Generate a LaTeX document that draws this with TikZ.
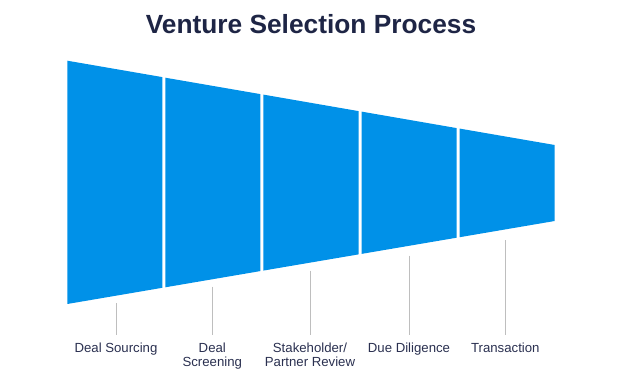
\documentclass[tikz,border=0pt]{standalone}
\usepackage{fontspec}
\setmainfont{Liberation Sans}
\definecolor{funnelblue}{RGB}{0,145,232}
\definecolor{titlenavy}{RGB}{30,37,69}
\definecolor{labelnavy}{RGB}{42,48,80}
\definecolor{leadergray}{RGB}{190,190,190}
\tikzset{
	stage/.style={fill=funnelblue, draw=none},
	leader/.style={draw=leadergray, line width=1pt},
	lbl/.style={text=labelnavy, font=\fontsize{13.2}{14}\selectfont, align=center, inner sep=0pt, anchor=north}
}
\begin{document}
\begin{tikzpicture}[x=1pt, y=-1pt]
	\useasboundingbox (0,0) rectangle (625,385);
	\node[text=titlenavy, font=\fontsize{26.3}{30}\selectfont\bfseries, anchor=base] (title) at (311,33.3) {Venture Selection Process};
	% funnel stages
	\fill[stage] (67.3,60.7) -- (162.3,77.1) -- (162.3,287.8) -- (67.3,304) -- cycle;
	\fill[stage] (165.3,77.7) -- (260.3,94.1) -- (260.3,271.1) -- (165.3,287.3) -- cycle;
	\fill[stage] (263.3,94.6) -- (358.5,111.1) -- (358.5,254.4) -- (263.3,270.6) -- cycle;
	\fill[stage] (361.5,111.6) -- (456.7,128.1) -- (456.7,237.7) -- (361.5,253.9) -- cycle;
	\fill[stage] (459.7,128.6) -- (554.7,145.0) -- (554.7,221.0) -- (459.7,237.2) -- cycle;
	% leader tops
	\coordinate (t1) at (116,303.3);
	\coordinate (t2) at (212.3,286.7);
	\coordinate (t3) at (310,270.7);
	\coordinate (t4) at (409,255.7);
	\coordinate (t5) at (505.3,240.3);
	% labels
	\node[lbl] (l1) at (116,343) {Deal Sourcing};
	\node[lbl] (l2) at (212.3,343) {Deal\\Screening};
	\node[lbl] (l3) at (310,343) {Stakeholder/\\Partner Review};
	\node[lbl] (l4) at (409,343) {Due Diligence};
	\node[lbl] (l5) at (505.3,343) {Transaction};
	 \draw[leader] (t1) -- ([yshift=8pt]l1.north);
	 \draw[leader] (t2) -- ([yshift=8pt]l2.north);
	 \draw[leader] (t3) -- ([yshift=8pt]l3.north);
	 \draw[leader] (t4) -- ([yshift=8pt]l4.north);
	 \draw[leader] (t5) -- ([yshift=8pt]l5.north);
\end{tikzpicture}
\end{document}
